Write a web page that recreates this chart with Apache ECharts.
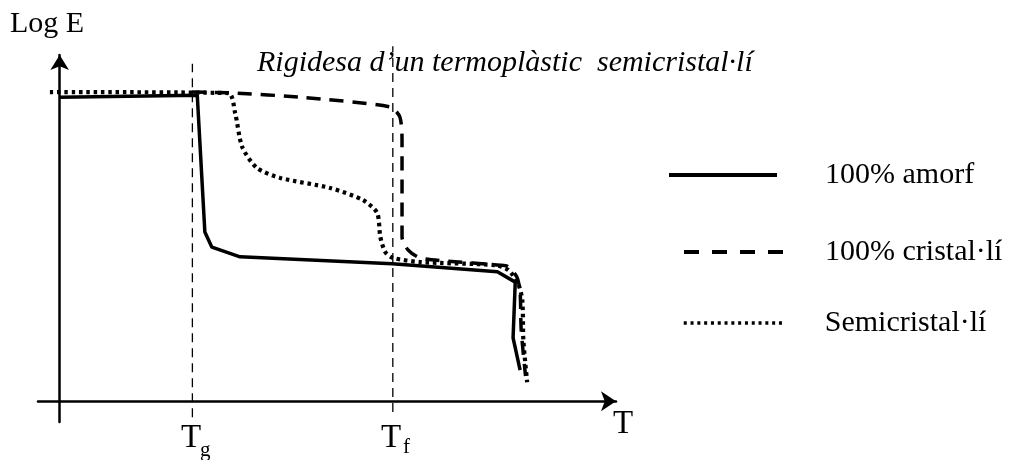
<!DOCTYPE html>
<html>
<head>
<meta charset="utf-8">
<script src="https://cdn.jsdelivr.net/npm/echarts@6/dist/echarts.min.js"></script>
<style>
    body { margin: 0; background: #fff; }
    #main { width: 1012px; height: 460px; }
</style>
</head>
<body>
<div id="main"></div>
<script>
    // arbitrary units: T along x, Log E along y
    var Tg = 24.5;
    var Tf = 61.5;

    var amorf = [
        [0, 87.8], [25.4, 88.4], [26.8, 48.9], [28.1, 44.5], [33.3, 41.7],
        [61.4, 39.7], [80.8, 37.4], [84.1, 34.4], [83.7, 18.3], [85.0, 9.0]
    ];
    var cristall = [
        [24.4, 89.3], [32.4, 89.0], [44.4, 87.8], [61.0, 85.0], [62.8, 82.1],
        [63.2, 75.4], [63.2, 47.4], [64.3, 43.7], [66.5, 41.4], [71.2, 40.5],
        [81.3, 39.3], [82.6, 39.0], [84.4, 35.9], [85.0, 31.3], [85.2, 20.6], [86.0, 7.3]
    ];
    var semicristall = [
        [-1.8, 89.3], [31.1, 89.0], [32.4, 83.2], [33.7, 73.4], [36.4, 67.4],
        [40.7, 64.5], [49.9, 61.6], [56.0, 58.1], [58.6, 54.4], [59.2, 47.4],
        [60.1, 43.1], [61.5, 41.4], [66.5, 40.2], [80.4, 39.3], [82.8, 37.9],
        [84.6, 34.1], [85.4, 29.2], [85.6, 17.6], [86.3, 5.5]
    ];
    var guideTg = [[Tg, -4.6], [Tg, 97.5]];
    var guideTf = [[Tf, -3.1], [Tf, 102.5]];

    var names = ['100% amorf', '100% cristal·lí', 'Semicristal·lí'];

    var serif = 'Liberation Serif';
    var chart = echarts.init(document.getElementById('main'), null, { renderer: 'canvas' });

    function legendFor(name, left, top, width, gap, lineStyle) {
        return {
            data: [name],
            left: left,
            top: top,
            orient: 'vertical',
            padding: 0,
            itemWidth: width,
            itemHeight: 30,
            selectedMode: false,
            itemStyle: { opacity: 0 },
            lineStyle: lineStyle,
            textStyle: {
                fontFamily: serif,
                fontSize: 30,
                color: '#000',
                padding: [0, 0, 0, gap]
            }
        };
    }

    var option = {
        animation: false,
        backgroundColor: '#fff',
        grid: { left: 38, right: 396, top: 55, bottom: 38 },
        xAxis: {
            type: 'value',
            min: -4,
            max: 102.7,
            axisLine: {
                onZero: true,
                symbol: ['none', 'arrow'],
                symbolSize: [15, 15],
                lineStyle: { color: '#000', width: 2.5 }
            },
            axisTick: { show: false },
            axisLabel: { show: false },
            splitLine: { show: false }
        },
        yAxis: {
            type: 'value',
            min: -6,
            max: 100,
            axisLine: {
                onZero: true,
                symbol: ['none', 'arrow'],
                symbolSize: [14, 15],
                lineStyle: { color: '#000', width: 2.5 }
            },
            axisTick: { show: false },
            axisLabel: { show: false },
            splitLine: { show: false }
        },
        legend: [
            legendFor(names[0], 667, 160, 108, 43, { width: 4, type: 'solid', color: '#000' }),
            legendFor(names[1], 682, 237, 100, 36, { width: 4, type: [15, 13], color: '#000' }),
            legendFor(names[2], 682, 308, 100, 36, { width: 3.5, type: [3, 3.8], color: '#000' })
        ],
        series: [
            {
                type: 'line', data: guideTg, symbol: 'none', clip: false, silent: true,
                lineStyle: { color: '#000', width: 1.3, type: [9, 6] }
            },
            {
                type: 'line', data: guideTf, symbol: 'none', clip: false, silent: true,
                lineStyle: { color: '#000', width: 1.3, type: [9, 6] }
            },
            {
                name: names[0], type: 'line', data: amorf, symbol: 'none',
                itemStyle: { color: '#000' },
                lineStyle: { color: '#000', width: 3.5, type: 'solid' }
            },
            {
                name: names[1], type: 'line', data: cristall, symbol: 'none', smooth: 0.25,
                itemStyle: { color: '#000' },
                lineStyle: { color: '#000', width: 3.5, type: [14, 9] }
            },
            {
                name: names[2], type: 'line', data: semicristall, symbol: 'none', smooth: 0.25,
                itemStyle: { color: '#000' },
                lineStyle: { color: '#000', width: 4.2, type: [3.5, 3.8] }
            }
        ],
        graphic: [
            { type: 'text', left: 10, top: 9, style: { text: 'Log E', font: '30px ' + serif, fill: '#000' } },
            { type: 'text', x: 257, y: 63, style: { text: 'Rigidesa d\u2019un termoplàstic  semicristal·lí', font: 'italic 30px ' + serif, fill: '#000', verticalAlign: 'middle' } },
            { type: 'text', x: 613, y: 424, style: { text: 'T', font: '33px ' + serif, fill: '#000', verticalAlign: 'middle' } },
            { type: 'text', x: 181, y: 438, style: { text: 'T', font: '33px ' + serif, fill: '#000', verticalAlign: 'middle' } },
            { type: 'text', x: 200, y: 450, style: { text: 'g', font: '21px ' + serif, fill: '#000', verticalAlign: 'middle' } },
            { type: 'text', x: 381, y: 438, style: { text: 'T', font: '33px ' + serif, fill: '#000', verticalAlign: 'middle' } },
            { type: 'text', x: 403, y: 447, style: { text: 'f', font: '21px ' + serif, fill: '#000', verticalAlign: 'middle' } }
        ]
    };

    chart.setOption(option);
</script>
</body>
</html>
